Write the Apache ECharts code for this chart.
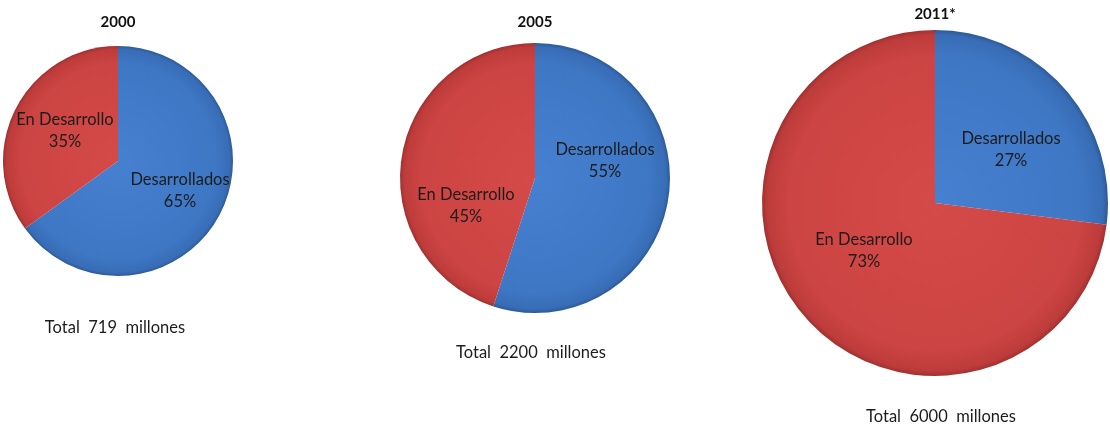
<!DOCTYPE html>
<html>
<head>
<meta charset="utf-8">
<script src="https://cdn.jsdelivr.net/npm/echarts@6/dist/echarts.min.js"></script>
<style>
  html, body { margin: 0; padding: 0; background: #fff; }
  #chart { width: 1110px; height: 430px; }
</style>
</head>
<body>
<div id="chart"></div>
<script>
// Internet users by group of countries, three snapshots
const years = ['2000', '2005', '2011*'];
const categories = ['Desarrollados', 'En Desarrollo'];
const desarrollados = [65, 55, 27];   // % developed countries
const enDesarrollo = [35, 45, 73];    // % developing countries
const totals = [719, 2200, 6000];     // total users, millions

// Layout of each pie (center in px, radius in px)
const centers = [[118, 161], [535, 178], [935, 203]];
const radii = [115, 135, 173];
// Label anchor offsets from each pie's center, per category
const labelOffsets = [
  [[62, 30], [-53, -30]],
  [[70, -17], [-69, 28]],
  [[76, -53], [-71, 48]]
];
const yearY = [22, 22, 14];
const totalPos = [[115, 328], [531, 353], [941, 417]];

const FONT = 'Lato, "Open Sans", sans-serif';

function shade(c, r, stops) {
  return new echarts.graphic.RadialGradient(c[0], c[1], r,
    stops.map((s) => ({ offset: s[0], color: s[1] })), true);
}
const blueStops = [[0, '#4680d0'], [0.85, '#3e77c4'], [0.97, '#386db6'], [1, '#2d5a98']];
const redStops = [[0, '#d44a48'], [0.85, '#cc4443'], [0.97, '#bd3c3b'], [1, '#a03130']];

const series = years.map((y, i) => ({
  type: 'pie',
  center: centers[i],
  radius: radii[i],
  startAngle: 90,
  clockwise: true,
  silent: true,
  animation: false,
  data: [
    { name: categories[0], value: desarrollados[i],
      itemStyle: { color: shade(centers[i], radii[i], blueStops) } },
    { name: categories[1], value: enDesarrollo[i],
      itemStyle: { color: shade(centers[i], radii[i], redStops) } }
  ],
  itemStyle: { borderWidth: 0 },
  label: {
    show: true,
    position: 'inside',
    formatter: (p) => p.name + '\n' + p.value + '%',
    fontFamily: FONT,
    fontSize: 16.5,
    lineHeight: 22,
    color: '#1c1c1c',
    align: 'center'
  },
  labelLine: { show: false },
  labelLayout: (p) => ({
    x: centers[i][0] + labelOffsets[i][p.dataIndex][0],
    y: centers[i][1] + labelOffsets[i][p.dataIndex][1],
    align: 'center',
    verticalAlign: 'middle'
  })
}));

const graphic = [];
years.forEach((y, i) => {
  graphic.push({
    type: 'text', x: centers[i][0], y: yearY[i], silent: true,
    style: { text: y, font: 'bold 15px ' + FONT, fill: '#111',
             textAlign: 'center', textVerticalAlign: 'middle' }
  });
  graphic.push({
    type: 'text', x: totalPos[i][0], y: totalPos[i][1], silent: true,
    style: { text: 'Total  ' + totals[i] + '  millones', font: '16.5px ' + FONT,
             fill: '#1c1c1c', textAlign: 'center', textVerticalAlign: 'middle' }
  });
});

const chart = echarts.init(document.getElementById('chart'), null, { renderer: 'canvas' });
chart.setOption({
  backgroundColor: '#ffffff',
  animation: false,
  series: series,
  graphic: graphic
});
</script>
</body>
</html>
